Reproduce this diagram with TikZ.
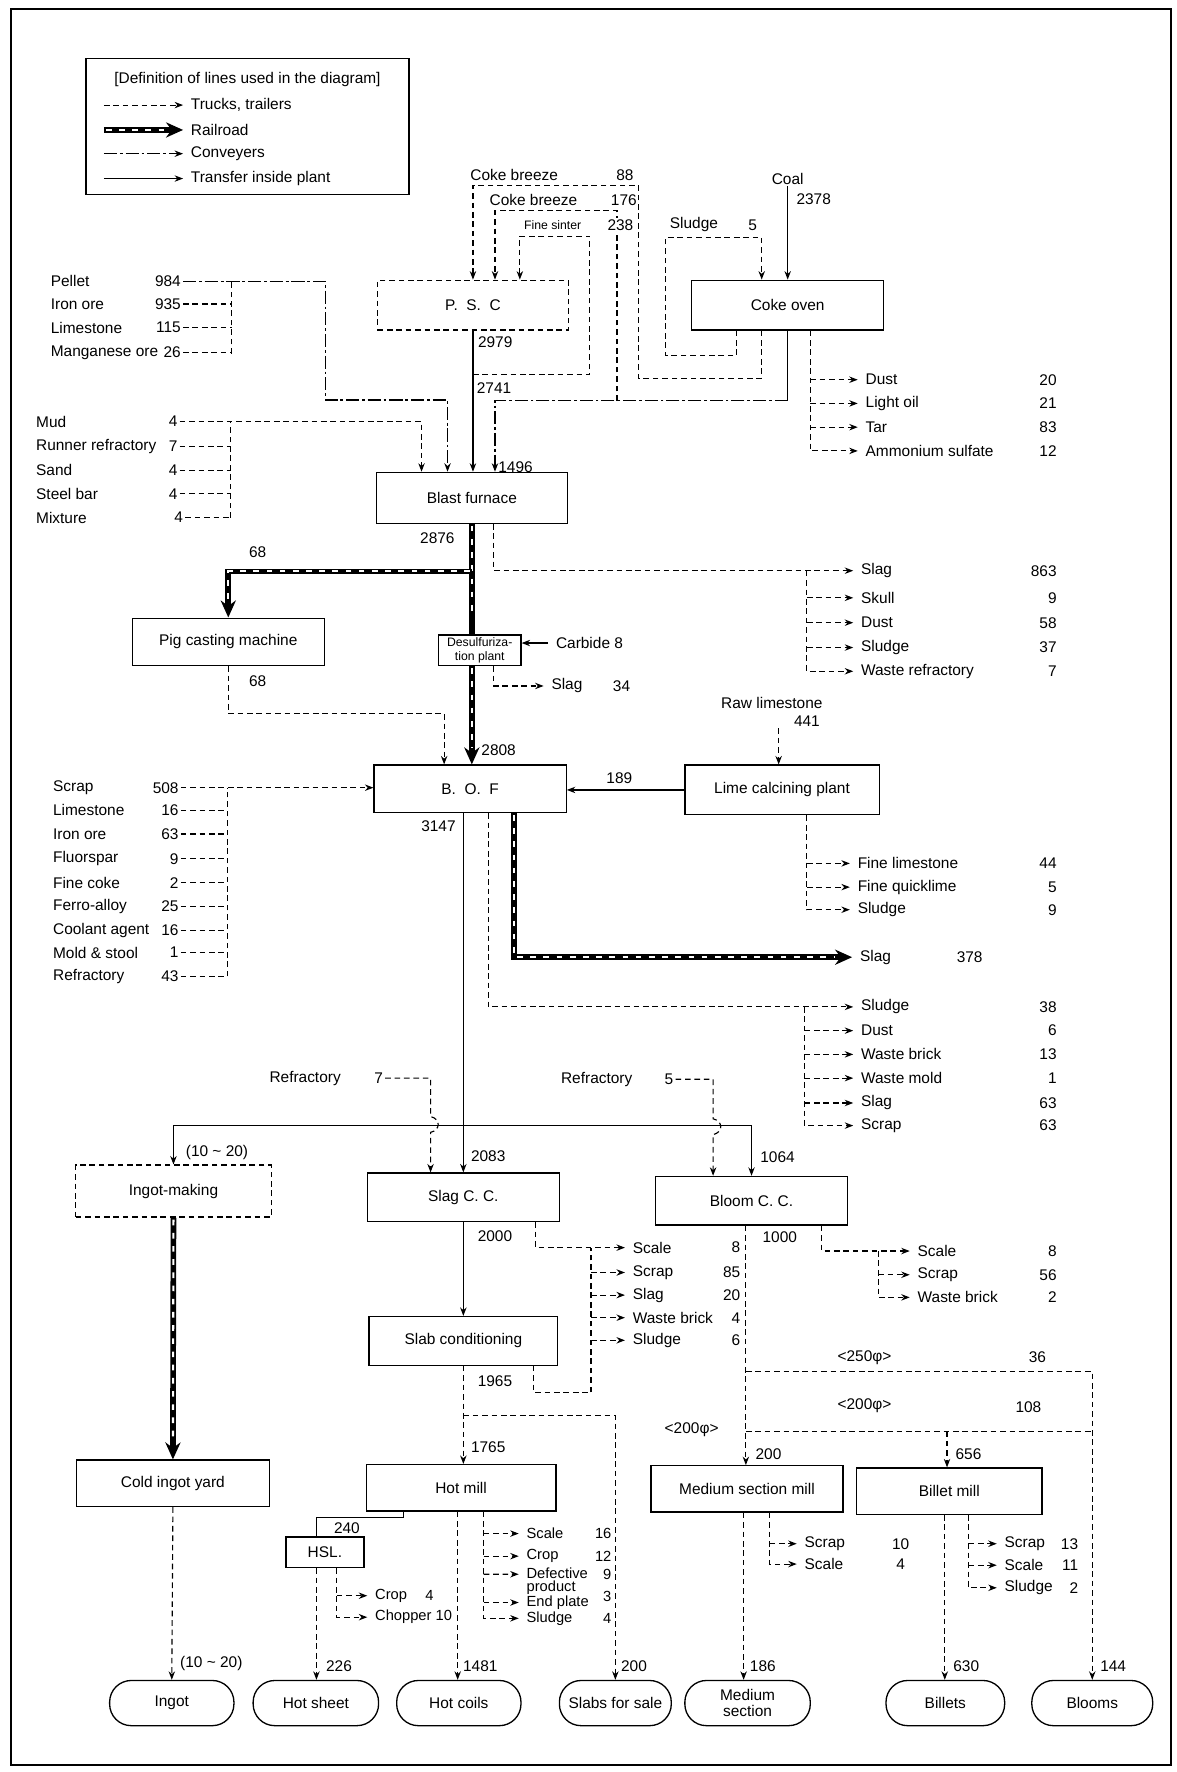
\documentclass[tikz,border=0pt]{standalone}
\usepackage{fontspec}
\setmainfont{Liberation Sans}
\usetikzlibrary{arrows.meta,positioning}

\begin{document}
\begin{tikzpicture}[x=0.6pt,y=-0.6pt,
  font=\fontsize{8.2}{9}\selectfont,
  >={Stealth[length=4.5pt,width=3.4pt]},
  box/.style={draw,line width=0.7pt,inner sep=0pt,align=center},
  dbox/.style={box,dash pattern=on 3pt off 2pt},
  prod/.style={draw,line width=0.7pt,rounded corners=11.5pt,inner sep=0pt,align=center,minimum height=24pt},
  trk/.style={line width=0.6pt,dash pattern=on 3pt off 2pt},
  truck/.style={trk,->},
  conv/.style={->,line width=0.7pt,dash pattern=on 7pt off 1.5pt on 1.5pt off 1.5pt},
  plant/.style={->,line width=0.6pt},
  rail/.style={line width=3pt,postaction={draw=white,line width=1.1pt,dash pattern=on 3pt off 4pt,-,shorten >=9pt,shorten <=1pt}},
  railto/.style={rail,-{Stealth[length=9pt,width=8pt]}},
  lbl/.style={inner sep=1pt},
  num/.style={inner sep=1pt,anchor=east},
  outl/.style={anchor=west,inner xsep=4pt,inner ysep=1pt,align=left},
  tiny/.style={font=\fontsize{6.5}{7}\selectfont},
  hm/.style={font=\fontsize{7.8}{7.2}\selectfont}]

  \useasboundingbox (0,0) rectangle (1041,1568);
  \draw[line width=1pt] (10,8) rectangle (1036,1562);

  % legend
  \node[box,minimum width=171.6pt,minimum height=72pt] (legend) at (219,112) {};
  \node[lbl] (legtitle) at (219,70) {[Definition of lines used in the diagram]};
  \node[outl] (lgtruck) at (162,93) {Trucks, trailers};
  \node[outl] (lgrail) at (162,115) {Railroad};
  \node[outl] (lgconv) at (162,136) {Conveyers};
  \node[outl] (lgplant) at (162,158) {Transfer inside plant};
  \coordinate (lg1) at (92,93);
  \coordinate (lg2) at (92,115);
  \coordinate (lg3) at (92,136);
  \coordinate (lg4) at (92,158);
  \draw[truck] (lg1) -- (lgtruck);
  \draw[railto] (lg2) -- (lgrail);
  \draw[conv] (lg3) -- (lgconv);
  \draw[plant] (lg4) -- (lgplant);

  % sinter plant and coke oven
  \node[dbox,minimum width=101.4pt,minimum height=26.4pt] (psc) at (418.5,270) {P.\ \ S.\ \ C};
  \node[box,minimum width=102pt,minimum height=26.4pt] (coke) at (697,270) {Coke oven};
  \node[lbl] (coal) at (697,158) {Coal};
  \node[lbl] (v2378) at (720,176) {2378};
  \node[lbl] (cb1) at (455,155) {Coke breeze};
  \node[lbl] (v88) at (553,155) {88};
  \node[lbl] (cb2) at (472,177) {Coke breeze};
  \node[lbl] (v176) at (552,177) {176};
  \node[lbl,tiny] (fsin) at (489,199) {Fine sinter};
  \node[lbl] (sl5) at (614,199) {Sludge};
  \node[lbl] (v5) at (666,199) {5};

  \draw[plant] (coal.south) -- (coal.south |- coke.north);
  \coordinate (c88) at ([xshift=-13.8pt]coke.south);
  \draw[truck] (c88) -- ++(0,42) -| (565,164) -| (psc.north);
  \coordinate (csl) at ([xshift=-27pt]coke.south);
  \coordinate (c5in) at ([xshift=-13.8pt]coke.north);
  \draw[truck] (csl) -- ++(0,22) -| (589,210) -| (c5in);

  % blast furnace
  \node[box,minimum width=101.4pt,minimum height=27pt] (bf) at (417.5,440.5) {Blast furnace};
  \draw[plant] (psc.south) -- (psc.south |- bf.north);
  \node[lbl,anchor=west] (v2979) at (421,303) {2979};
  \node[lbl,anchor=west] (v2741) at (420,343) {2741};
  \path (psc.south) ++(0,39) coordinate (sinj);
  \coordinate (fsinin) at ([xshift=24.9pt]psc.north);
  \draw[truck] (sinj) -| (522,209) -| (fsinin);

  \path (coke.south) ++(0,62) coordinate (cokej);
  \coordinate (cokein) at ([xshift=12.3pt]bf.north);
  \draw[line width=0.6pt] (coke.south) -- (cokej);
  \draw[conv] (cokej) -| (cokein);
  \node[lbl,anchor=west] (v1496) at (439,413) {1496};
  \path (cokej) ++(-151,0) coordinate (cbj);
  \coordinate (cbin) at ([xshift=11.7pt]psc.north);
  \draw[truck] (cbj) -- ++(0,-168) -| (cbin);
  \node[lbl,fill=white,inner sep=0.5pt] (v238) at (549,199) {238};

  % coke oven by-products
  \foreach \nm/\tx/\val/\yy in {kdust/Dust/20/336,koil/Light oil/21/357,ktar/Tar/83/378,kams/Ammonium sulfate/12/399}{
    \node[outl] (\nm) at (759,\yy) {\tx};
    \node[num] (v\nm) at (937,\yy) {\val};
  }
  \coordinate (kcol) at ([xshift=12pt]coke.south);
  \draw[truck] (kcol) |- (kams.west);
  \foreach \nm in {kdust,koil,ktar} \draw[truck] (kcol |- \nm.west) -- (\nm.west);

  % pellet group
  \foreach \nm/\tx/\val/\yy in {pel/Pellet/984/249,ore/Iron ore/935/269,lim/Limestone/115/290,mn/Manganese ore/26/312}{
    \node[lbl,anchor=west] (\nm) at (43,\yy) {\tx};
    \node[num] (v\nm) at (162,\yy) {\val};
  }
  \coordinate (pcol) at (205,313);
  \draw[trk] (pcol) -- (pcol |- vpel.east);
  \foreach \nm in {ore,lim,mn} \draw[trk] (v\nm.east) -- (v\nm.east -| pcol);
  \coordinate (pelin) at ([xshift=-12.9pt]bf.north);
  \draw[conv] (vpel.east) -| (288,354) -| (pelin);

  % mud group
  \foreach \nm/\tx/\val/\yy in {mud/Mud/4/373,rr/Runner refractory/7/395,sand/Sand/4/416,sb/Steel bar/4/437}{
    \node[lbl,anchor=west] (\nm) at (30,\yy) {\tx};
    \node[num] (v\nm) at (159,\yy) {\val};
  }
  \node[lbl,anchor=west] (mix) at (30,458) {Mixture};
  \node[num] (vmix) at (164,458) {4};
  \coordinate (mcol) at (204,458);
  \draw[trk] (mcol) -- (mcol |- vmud.east);
  \foreach \nm in {rr,sand,sb,mix} \draw[trk] (v\nm.east) -- (v\nm.east -| mcol);
  \coordinate (mudin) at ([xshift=-26.7pt]bf.north);
  \draw[truck] (vmud.east) -| (mudin);

  % hot metal
  \node[lbl] (v2876) at (387,476) {2876};
  \node[box,minimum width=102pt,minimum height=25.2pt] (pig) at (202,568) {Pig casting machine};
  \node[box,tiny,minimum width=43.8pt,minimum height=16.2pt] (ds) at (424.5,575.5) {Desulfuriza-\\tion plant};
  \node[box,minimum width=102pt,minimum height=25.2pt] (bof) at (416,698) {B.\ \ O.\ \ F};
  \draw[rail] (bf.south) -- (bf.south |- ds.north);
  \draw[railto] (bf.south |- ds.south) -- (bf.south |- bof.north);
  \path (bf.south) ++(0,42) coordinate (pigj);
  \draw[railto] (pigj) -| (pig.north);
  \node[lbl] (v68a) at (228,489) {68};
  \node[lbl] (v68b) at (228,603) {68};
  \coordinate (bofin) at ([xshift=-13.8pt]bof.north);
  \path (bofin) ++(0,-45) coordinate (pigbj);
  \draw[truck] (pig.south) |- (pigbj) -- (bofin);
  \node[lbl,anchor=west] (v2808) at (424,664) {2808};

  \node[outl] (carb) at (485,569) {Carbide 8};
  \draw[plant] (carb.west) -- (carb.west -| ds.east);
  \node[outl] (dslag) at (481,607) {Slag};
  \node[lbl] (v34) at (550,607) {34};
  \coordinate (dsw) at ([xshift=7.5pt]ds.south);
  \draw[truck] (dsw) |- (dslag.west);

  % blast furnace wastes
  \foreach \nm/\tx/\val/\yy in {bslag/Slag/863/505,bskull/Skull/9/529,bdust/Dust/58/551,bsludge/Sludge/37/573,bwref/Waste refractory/7/594}{
    \node[outl] (\nm) at (755,\yy) {\tx};
    \node[num] (v\nm) at (937,\yy) {\val};
  }
  \coordinate (bfw) at ([xshift=11.7pt]bf.south);
  \draw[truck] (bfw) |- (bslag.west);
  \coordinate (bfcol) at (714,505);
  \draw[truck] (bfcol) |- (bwref.west);
  \foreach \nm in {bskull,bdust,bsludge} \draw[truck] (bfcol |- \nm.west) -- (\nm.west);

  % lime calcining
  \node[box,minimum width=103.2pt,minimum height=26.4pt] (lime) at (692,699) {Lime calcining plant};
  \draw[plant] (lime.west) -- (lime.west -| bof.east);
  \node[lbl] (v189) at (548,689) {189};
  \node[lbl] (rawl) at (683,622) {Raw limestone};
  \node[lbl] (v441) at (714,638) {441};
  \coordinate (rawin) at ([xshift=-1.8pt]lime.north);
  \path (rawin) ++(0,-32) coordinate (rawtop);
  \draw[truck] (rawtop) -- (rawin);
  \foreach \nm/\tx/\val/\yy in {lfl/Fine limestone/44/764,lfq/Fine quicklime/5/785,lsl/Sludge/9/805}{
    \node[outl] (\nm) at (752,\yy) {\tx};
    \node[num] (v\nm) at (937,\yy) {\val};
  }
  \coordinate (lcol) at ([xshift=13.2pt]lime.south);
  \draw[truck] (lcol) |- (lsl.west);
  \foreach \nm in {lfl,lfq} \draw[truck] (lcol |- \nm.west) -- (\nm.west);

  % converter charge
  \foreach \nm/\tx/\val/\yy in {scr/Scrap/508/697,slim/Limestone/16/717,sore/Iron ore/63/738,flu/Fluorspar/9/760,fco/Fine coke/2/781,fer/Ferro-alloy/25/802,coo/Coolant agent/16/823,mold/Mold \& stool/1/843,sref/Refractory/43/864}{
    \node[lbl,anchor=west] (\nm) at (45,\yy) {\tx};
    \node[num] (v\nm) at (160,\yy) {\val};
  }
  \coordinate (scol) at (201,864);
  \draw[trk] (scol) -- (scol |- vscr.east);
  \foreach \nm in {slim,sore,flu,fco,fer,coo,mold,sref} \draw[trk] (v\nm.east) -- (v\nm.east -| scol);
  \draw[truck] (vscr.east) -- (vscr.east -| bof.west);

  % converter outputs
  \node[lbl] (v3147) at (388,731) {3147};
  \node[outl] (rslag) at (754,847) {Slag};
  \node[lbl] (v378) at (858,847) {378};
  \draw[railto] ([xshift=23.4pt]bof.south) |- (rslag.west);
  \foreach \nm/\tx/\val/\yy in {osl/Sludge/38/891,odust/Dust/6/912,obrick/Waste brick/13/933,omold/Waste mold/1/954,oslag/Slag/63/976,oscrap/Scrap/63/996}{
    \node[outl] (\nm) at (755,\yy) {\tx};
    \node[num] (v\nm) at (937,\yy) {\val};
  }
  \coordinate (bofw) at ([xshift=9.6pt]bof.south);
  \draw[truck] (bofw) |- (osl.west);
  \coordinate (ocol) at (712,891);
  \draw[truck] (ocol) |- (oscrap.west);
  \foreach \nm in {odust,obrick,omold,oslag} \draw[truck] (ocol |- \nm.west) -- (\nm.west);

  % casting
  \node[dbox,minimum width=103.8pt,minimum height=27.6pt] (ingot) at (153.5,1054) {Ingot-making};
  \node[box,minimum width=102pt,minimum height=25.8pt] (slagcc) at (410,1059.5) {Slag C.\ C.};
  \node[box,minimum width=102pt,minimum height=25.8pt] (bloomcc) at (665,1062.5) {Bloom C.\ C.};
  \coordinate (bofout) at ([xshift=-3.6pt]bof.south);
  \draw[plant] (bofout) -- (bofout |- slagcc.north);
  \path (bofout) ++(0,276) coordinate (dist);
  \draw[plant] (dist) -| (ingot.north);
  \draw[plant] (dist) -| (bloomcc.north);
  \node[lbl] (v1020) at (192,1020) {(10 \textasciitilde{} 20)};
  \node[lbl] (v2083) at (432,1023) {2083};
  \node[lbl] (v1064) at (688,1024) {1064};

  \node[lbl] (ref7) at (270,954) {Refractory};
  \node[lbl] (v7) at (335,954) {7};
  \coordinate (r7in) at ([xshift=-17.4pt]slagcc.north);
  \draw[truck] (v7.east) -- (381,954) -- (381,988) .. controls (390,990) and (390,1000) .. (381,1002) -- (r7in);
  \node[lbl] (ref5) at (528,955) {Refractory};
  \node[lbl] (v5b) at (592,955) {5};
  \coordinate (r5in) at ([xshift=-20.4pt]bloomcc.north);
  \draw[truck] (v5b.east) -- (631,955) -- (631,990) .. controls (640,992) and (640,1002) .. (631,1004) -- (r5in);

  % slab line
  \node[box,minimum width=100.2pt,minimum height=25.8pt] (slabc) at (410,1186.5) {Slab conditioning};
  \draw[plant] (slagcc.south) -- (slabc.north);
  \node[lbl] (v2000) at (438,1094) {2000};
  \node[lbl] (v1965) at (438,1222) {1965};
  \foreach \nm/\tx/\val/\yy in {cscale/Scale/8/1104,cscrap/Scrap/85/1126,cslag/Slag/20/1146,cbrick/Waste brick/4/1166,csludge/Sludge/6/1186}{
    \node[outl] (\nm) at (553,\yy) {\tx};
    \node[num] (v\nm) at (657,\yy) {\val};
  }
  \coordinate (scw) at ([xshift=38.4pt]slagcc.south);
  \draw[truck] (scw) |- (cscale.west);
  \coordinate (ccol) at (523,1232);
  \draw[trk] (ccol) -- (ccol |- cscale.west);
  \foreach \nm in {cscrap,cslag,cbrick,csludge} \draw[truck] (ccol |- \nm.west) -- (\nm.west);
  \coordinate (slw) at ([xshift=37.2pt]slabc.south);
  \draw[trk] (slw) |- (ccol);

  % bloom line
  \node[lbl] (v1000) at (690,1095) {1000};
  \foreach \nm/\tx/\val/\yy in {mscale/Scale/8/1107,mscrap/Scrap/56/1128,mbrick/Waste brick/2/1148}{
    \node[outl] (\nm) at (805,\yy) {\tx};
    \node[num] (v\nm) at (937,\yy) {\val};
  }
  \coordinate (bcw) at ([xshift=37.2pt]bloomcc.south);
  \draw[truck] (bcw) |- (mscale.west);
  \coordinate (mcol2) at (777,1107);
  \draw[truck] (mcol2) |- (mbrick.west);
  \draw[truck] (mcol2 |- mscrap.west) -- (mscrap.west);

  % mills
  \node[box,minimum width=102.6pt,minimum height=24.6pt] (ciy) at (153,1312.5) {Cold ingot yard};
  \node[box,minimum width=100.8pt,minimum height=24.6pt] (hotmill) at (408,1316.5) {Hot mill};
  \node[box,minimum width=41.4pt,minimum height=16.2pt] (hsl) at (287.5,1373.5) {HSL.};
  \node[box,minimum width=102pt,minimum height=24.6pt] (msm) at (661,1317.5) {Medium section mill};
  \node[box,minimum width=98.4pt,minimum height=24.6pt] (billm) at (840,1319.5) {Billet mill};

  % products
  \node[prod,minimum width=66pt] (ingotp) at (152,1507) {Ingot};
  \node[prod,minimum width=66.6pt] (hsheet) at (279.5,1507) {Hot sheet};
  \node[prod,minimum width=66pt] (hcoil) at (406,1507) {Hot coils};
  \node[prod,minimum width=59.4pt] (sfs) at (544.5,1507) {Slabs for sale};
  \node[prod,minimum width=66.6pt,font=\fontsize{8.2}{8.5}\selectfont] (medsec) at (661.5,1507) {Medium\\section};
  \node[prod,minimum width=63pt] (billets) at (836.5,1507) {Billets};
  \node[prod,minimum width=64.2pt] (blooms) at (966.5,1507) {Blooms};

  \draw[railto] (ingot.south) -- (ciy.north);
  \draw[truck] (ciy.south) -- (ingotp.north);
  \node[lbl] (v1020b) at (187,1472) {(10 \textasciitilde{} 20)};

  \draw[truck] (slabc.south) -- (slabc.south |- hotmill.north);
  \node[lbl] (v1765) at (432,1281) {1765};
  \path (slabc.south) ++(0,44) coordinate (sfsj);
  \draw[truck] (sfsj) -| (sfs.north);
  \node[lbl] (v200s) at (561,1474) {200};

  \coordinate (hmhsl) at ([xshift=-30.6pt]hotmill.south);
  \coordinate (hslin) at ([xshift=-4.5pt]hsl.north);
  \draw[line width=0.6pt] (hmhsl) -- ++(0,5) -| (hslin);
  \node[lbl] (v240) at (307,1352) {240};
  \coordinate (hslout) at ([xshift=-4.5pt]hsl.south);
  \draw[truck] (hslout) -- (hslout |- hsheet.north);
  \node[lbl] (v226) at (300,1474) {226};
  \node[outl,hm] (scrop) at (325,1412) {Crop};
  \node[lbl,hm] (v4crop) at (380,1412) {4};
  \node[outl,hm] (schop) at (325,1431) {Chopper 10};
  \coordinate (hslcol) at ([xshift=6.3pt]hsl.south);
  \draw[truck] (hslcol) |- (schop.west);
  \draw[truck] (hslcol |- scrop.west) -- (scrop.west);

  \coordinate (hmout) at ([xshift=-1.8pt]hotmill.south);
  \draw[truck] (hmout) -- (hmout |- hcoil.north);
  \node[lbl] (v1481) at (425,1474) {1481};
  \node[outl,hm] (hscale) at (459,1357) {Scale};
  \node[outl,hm] (hcrop) at (459,1377) {Crop};
  \node[outl,hm] (hdef) at (459,1399) {Defective\\product};
  \node[outl,hm] (hend) at (459,1418) {End plate};
  \node[outl,hm] (hsludge) at (459,1432) {Sludge};
  \node[num,hm] (vhscale) at (543,1357) {16};
  \node[num,hm] (vhcrop) at (543,1377) {12};
  \node[num,hm] (vhdef) at (543,1393) {9};
  \node[num,hm] (vhend) at (543,1413) {3};
  \node[num,hm] (vhsludge) at (543,1432) {4};
  \coordinate (hmcol) at ([xshift=12pt]hotmill.south);
  \draw[truck] (hmcol) |- (hsludge.west);
  \foreach \nm in {hscale,hcrop,hend} \draw[truck] (hmcol |- \nm.west) -- (\nm.west);
  \draw[truck] (hmcol |- hdef.west) ++(0,-6) -- ([yshift=3.6pt]hdef.west);

  % bloom distribution
  \coordinate (bcout) at ([xshift=-3pt]bloomcc.south);
  \draw[truck] (bcout) -- (bcout |- msm.north);
  \path (bcout) ++(0,129) coordinate (b250);
  \path (bcout) ++(0,182) coordinate (b200);
  \draw[truck] (b250) -| (blooms.north);
  \draw[trk] (b200) -- (b200 -| blooms.north);
  \coordinate (bmin) at ([xshift=-1.2pt]billm.north);
  \draw[truck] (bmin |- b200) -- (bmin);
  \node[lbl] (d250) at (765,1201) {<250φ>};
  \node[lbl] (v36) at (918,1201) {36};
  \node[lbl] (d200a) at (765,1244) {<200φ>};
  \node[lbl] (v108) at (910,1245) {108};
  \node[lbl] (d200b) at (612,1265) {<200φ>};
  \node[lbl] (v200m) at (680,1287) {200};
  \node[lbl] (v656) at (857,1287) {656};
  \node[lbl] (v144) at (985,1474) {144};

  \coordinate (msout) at ([xshift=-1.8pt]msm.south);
  \draw[truck] (msout) -- (msout |- medsec.north);
  \node[lbl] (v186) at (675,1474) {186};
  \node[outl] (dscrap) at (705,1366) {Scrap};
  \node[outl] (dscale) at (705,1384) {Scale};
  \node[lbl] (vdscrap) at (797,1366) {10};
  \node[lbl] (vdscale) at (797,1384) {4};
  \coordinate (dcol) at ([xshift=12pt]msm.south);
  \draw[truck] (dcol) |- (dscale.west);
  \draw[truck] (dcol |- dscrap.west) -- (dscrap.west);

  \coordinate (bmout) at ([xshift=-2.4pt]billm.south);
  \draw[truck] (bmout) -- (bmout |- billets.north);
  \node[lbl] (v630) at (855,1474) {630};
  \foreach \nm/\tx/\val/\yy in {bmscrap/Scrap/13/1366,bmscale/Scale/11/1385,bmsludge/Sludge/2/1405}{
    \node[outl] (\nm) at (882,\yy) {\tx};
    \node[num] (v\nm) at (956,\yy) {\val};
  }
  \coordinate (bmcol) at ([xshift=10.2pt]billm.south);
  \draw[truck] (bmcol) |- (bmsludge.west);
  \foreach \nm in {bmscrap,bmscale} \draw[truck] (bmcol |- \nm.west) -- (\nm.west);

\end{tikzpicture}
\end{document}
